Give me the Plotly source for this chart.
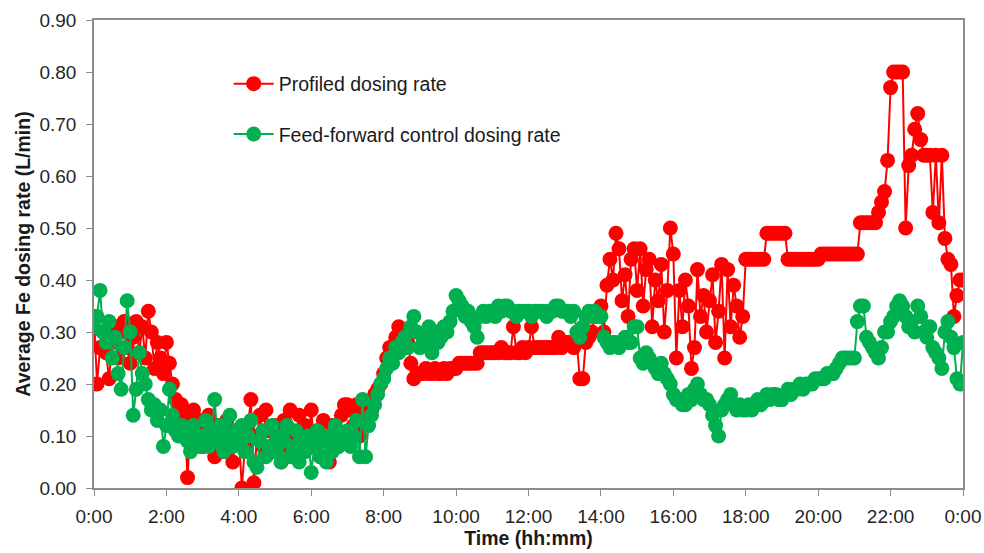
import plotly.graph_objects as go

# 5-minute samples, 0:00 .. 24:00 (289 points)
profiled = [
    0.33, 0.20, 0.27, 0.30, 0.26, 0.21, 0.28, 0.31, 0.25, 0.30, 0.32, 0.27,
    0.24, 0.29, 0.32, 0.26, 0.31, 0.25, 0.34, 0.30, 0.23, 0.28, 0.25, 0.22,
    0.28, 0.24, 0.20, 0.17, 0.15, 0.16, 0.14, 0.02, 0.12, 0.15, 0.10, 0.13,
    0.08, 0.11, 0.14, 0.09, 0.06, 0.12, 0.10, 0.07, 0.13, 0.09, 0.05, 0.11,
    0.10, 0.00, 0.08, 0.12, 0.17, 0.01, 0.10, 0.14, 0.08, 0.15, 0.11, 0.07,
    0.12, 0.09, 0.05, 0.13, 0.08, 0.15, 0.06, 0.10, 0.14, 0.07, 0.12, 0.09,
    0.15, 0.08, 0.11, 0.06, 0.13, 0.09, 0.05, 0.12, 0.10, 0.08, 0.14, 0.16,
    0.16, 0.15, 0.12, 0.16, 0.10, 0.14, 0.13, 0.16, 0.15, 0.18, 0.19, 0.20,
    0.22, 0.25, 0.27, 0.26, 0.29, 0.31, 0.30, 0.27, 0.28, 0.24, 0.21, 0.22,
    0.22, 0.22, 0.23, 0.22, 0.22, 0.23, 0.22, 0.22, 0.23, 0.22, 0.23, 0.23,
    0.23, 0.24, 0.24, 0.24, 0.24, 0.24, 0.24, 0.24, 0.26, 0.26, 0.26, 0.26,
    0.26, 0.26, 0.26, 0.27, 0.26, 0.26, 0.26, 0.31, 0.26, 0.26, 0.27, 0.26,
    0.27, 0.31, 0.27, 0.27, 0.27, 0.27, 0.27, 0.27, 0.27, 0.27, 0.29, 0.27,
    0.28, 0.28, 0.28, 0.27, 0.28, 0.21, 0.21, 0.28, 0.29, 0.30, 0.33, 0.34,
    0.35, 0.30, 0.39, 0.44, 0.40, 0.49, 0.46, 0.36, 0.41, 0.33, 0.44, 0.46,
    0.38, 0.46, 0.35, 0.42, 0.44, 0.31, 0.40, 0.36, 0.43, 0.30, 0.38, 0.50,
    0.45, 0.25, 0.38, 0.31, 0.40, 0.35, 0.23, 0.27, 0.42, 0.33, 0.37, 0.30,
    0.36, 0.41, 0.28, 0.34, 0.43, 0.25, 0.42, 0.31, 0.39, 0.35, 0.29, 0.33,
    0.44, 0.44, 0.44, 0.44, 0.44, 0.44, 0.44, 0.49, 0.49, 0.49, 0.49, 0.49,
    0.49, 0.49, 0.44, 0.44, 0.44, 0.44, 0.44, 0.44, 0.44, 0.44, 0.44, 0.44,
    0.44, 0.45, 0.45, 0.45, 0.45, 0.45, 0.45, 0.45, 0.45, 0.45, 0.45, 0.45,
    0.45, 0.45, 0.51, 0.51, 0.51, 0.51, 0.51, 0.51, 0.53, 0.55, 0.57, 0.63,
    0.77, 0.80, 0.80, 0.80, 0.80, 0.50, 0.62, 0.64, 0.69, 0.72, 0.67, 0.64,
    0.64, 0.64, 0.53, 0.64, 0.51, 0.64, 0.48, 0.44, 0.43, 0.33, 0.37, 0.40,
    0.40,
]

feedforward = [
    0.31, 0.33, 0.38, 0.30, 0.28, 0.32, 0.25, 0.29, 0.22, 0.19, 0.27, 0.36,
    0.30, 0.14, 0.19, 0.26, 0.22, 0.20, 0.17, 0.15, 0.16, 0.13, 0.15, 0.08,
    0.12, 0.19, 0.14, 0.11, 0.10, 0.12, 0.11, 0.09, 0.07, 0.12, 0.10, 0.08,
    0.10, 0.13, 0.08, 0.11, 0.17, 0.09, 0.12, 0.07, 0.10, 0.14, 0.08, 0.11,
    0.09, 0.12, 0.07, 0.10, 0.13, 0.05, 0.04, 0.09, 0.11, 0.06, 0.08, 0.12,
    0.07, 0.10, 0.05, 0.09, 0.12, 0.06, 0.08, 0.11, 0.05, 0.09, 0.07, 0.10,
    0.03, 0.08, 0.11, 0.06, 0.09, 0.05, 0.10, 0.07, 0.12, 0.08, 0.10, 0.09,
    0.11, 0.08, 0.10, 0.13, 0.06, 0.17, 0.06, 0.12, 0.14, 0.16, 0.18, 0.20,
    0.21, 0.23, 0.25, 0.24, 0.27, 0.26, 0.28, 0.29, 0.27, 0.31, 0.33, 0.30,
    0.27, 0.29, 0.28, 0.31, 0.26, 0.30, 0.28, 0.29, 0.31, 0.30, 0.32, 0.34,
    0.37, 0.36, 0.35, 0.33, 0.34, 0.32, 0.31, 0.29, 0.33, 0.34, 0.33, 0.34,
    0.34, 0.33, 0.35, 0.34, 0.35, 0.35, 0.34, 0.34, 0.33, 0.34, 0.34, 0.34,
    0.34, 0.33, 0.34, 0.34, 0.34, 0.34, 0.33, 0.34, 0.34, 0.35, 0.35, 0.34,
    0.34, 0.34, 0.33, 0.34, 0.30, 0.29, 0.31, 0.33, 0.34, 0.33, 0.34, 0.33,
    0.33, 0.29, 0.28, 0.27, 0.28, 0.28, 0.27, 0.28, 0.29, 0.28, 0.28, 0.31,
    0.31, 0.25, 0.24, 0.26, 0.25, 0.24, 0.23, 0.22, 0.24, 0.22, 0.21, 0.20,
    0.18, 0.17, 0.17, 0.16, 0.16, 0.18, 0.17, 0.19, 0.20, 0.18, 0.17, 0.17,
    0.16, 0.14, 0.12, 0.10, 0.15, 0.16, 0.17, 0.18, 0.16, 0.15, 0.16, 0.15,
    0.15, 0.16, 0.15, 0.16, 0.17, 0.16, 0.17, 0.18, 0.17, 0.18, 0.18, 0.17,
    0.17, 0.18, 0.19, 0.18, 0.19, 0.19, 0.20, 0.19, 0.20, 0.20, 0.20, 0.21,
    0.21, 0.21, 0.21, 0.22, 0.22, 0.22, 0.23, 0.24, 0.25, 0.25, 0.25, 0.25,
    0.25, 0.32, 0.35, 0.35, 0.29, 0.28, 0.27, 0.26, 0.25, 0.27, 0.30, 0.30,
    0.32, 0.33, 0.35, 0.36, 0.35, 0.33, 0.31, 0.32, 0.30, 0.35, 0.33, 0.30,
    0.29, 0.31, 0.27, 0.26, 0.25, 0.23, 0.30, 0.32, 0.29, 0.27, 0.21, 0.20,
    0.28,
]

hours = [i * 5 / 60 for i in range(len(profiled))]

tick_vals = list(range(0, 25, 2))
tick_text = ["0:00", "2:00", "4:00", "6:00", "8:00", "10:00", "12:00",
             "14:00", "16:00", "18:00", "20:00", "22:00", "0:00"]
y_ticks = [i / 10 for i in range(10)]
y_text = [f"{v:.2f}" for v in y_ticks]

RED = "#FF0000"
GREEN = "#00B050"
FONT = "Liberation Sans, Arial, sans-serif"

fig = go.Figure()
fig.add_trace(go.Scatter(
    x=hours, y=profiled, mode="lines+markers", name="Profiled dosing rate",
    line=dict(color=RED, width=2), marker=dict(color=RED, size=15),
    legendgroup="a"))
fig.add_trace(go.Scatter(
    x=hours, y=feedforward, mode="lines+markers",
    name="Feed-forward control dosing rate",
    line=dict(color=GREEN, width=2), marker=dict(color=GREEN, size=15),
    legendgroup="b"))

axis_common = dict(showgrid=False, zeroline=False, showline=True,
                   linecolor="#8c8c8c", linewidth=1.5, mirror=True,
                   ticks="outside", tickcolor="#8c8c8c", ticklen=6,
                   automargin=False,
                   tickfont=dict(family=FONT, size=19, color="#262626"))

fig.update_layout(
    width=984, height=553,
    margin=dict(l=94, r=21, t=20, b=65),
    paper_bgcolor="white", plot_bgcolor="white",
    font=dict(family=FONT, color="#262626"),
    xaxis=dict(range=[0, 24], tickvals=tick_vals, ticktext=tick_text,
               ticklabelstandoff=4,
               title=dict(text="<b>Time (hh:mm)</b>", font=dict(size=19.5, color="#1a1a1a"),
                          standoff=4),
               **axis_common),
    yaxis=dict(range=[0, 0.9], tickvals=y_ticks, ticktext=y_text,
               ticklabelstandoff=6,
               title=dict(text="<b>Average Fe dosing rate (L/min)</b>",
                          font=dict(size=19.5, color="#1a1a1a"), standoff=4),
               **axis_common),
    legend=dict(x=0.155, y=0.905, xanchor="left", yanchor="top",
                bgcolor="rgba(0,0,0,0)", font=dict(family=FONT, size=19.5, color="#1a1a1a"),
                tracegroupgap=22, traceorder="grouped", itemwidth=40),
    showlegend=True,
)

fig.write_html("out.html", config={"displayModeBar": False},
               post_script="document.body.style.margin='0';")
